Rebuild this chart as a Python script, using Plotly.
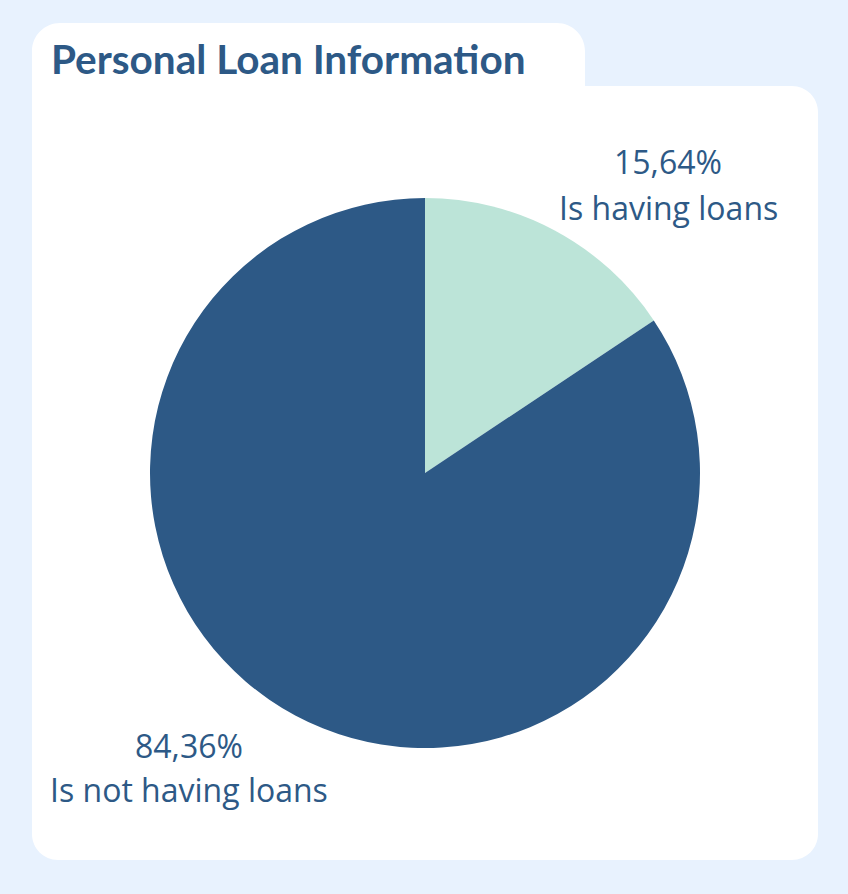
import plotly.graph_objects as go

# Data
categories = ["Is having loans", "Is not having loans"]
shares = [15.64, 84.36]
slice_colors = ["#bce4d8", "#2d5986"]
title_text = "Personal Loan Information"

W, H = 848, 894
TEXT = "#2d5986"
BG = "#e8f2fe"

fig = go.Figure()

# Pie: center (425,473), radius 275 px
cx, cy, r = 425, 473, 275
fig.add_trace(go.Pie(
    labels=categories, values=shares, sort=False, direction="clockwise",
    rotation=0, marker=dict(colors=slice_colors, line=dict(width=0)),
    textinfo="none", hoverinfo="label+percent", showlegend=False,
    domain=dict(x=[(cx - r) / W, (cx + r) / W], y=[1 - (cy + r) / H, 1 - (cy - r) / H]),
))

# hidden pixel axes
fig.update_xaxes(range=[0, W], visible=False, fixedrange=True)
fig.update_yaxes(range=[H, 0], visible=False, fixedrange=True)
fig.add_trace(go.Scatter(x=[0], y=[0], mode="markers", marker=dict(opacity=0), showlegend=False, hoverinfo="skip"))

# card path (tab + body) with rounded corners
k = 0.5523
def corner(x0, y0, x1, y1, cx_, cy_):
    c1 = (x0 + (cx_ - x0) * k, y0 + (cy_ - y0) * k)
    c2 = (x1 + (cx_ - x1) * k, y1 + (cy_ - y1) * k)
    return f"C {c1[0]},{c1[1]} {c2[0]},{c2[1]} {x1},{y1} "

L, T, TR, BT, R, B = 32, 23, 585, 86, 818, 860
rt, rb = 28, 26
path = f"M {L},{T+rt} " + corner(L, T + rt, L + rt, T, L, T)
path += f"L {TR-rt},{T} " + corner(TR - rt, T, TR, T + rt, TR, T)
path += f"L {TR},{BT} L {R-rb},{BT} " + corner(R - rb, BT, R, BT + rb, R, BT)
path += f"L {R},{B-rb} " + corner(R, B - rb, R - rb, B, R, B)
path += f"L {L+rb},{B} " + corner(L + rb, B, L, B - rb, L, B)
path += "Z"
fig.add_shape(type="path", path=path, xref="x", yref="y", fillcolor="white",
              line=dict(width=0), layer="below")

ann = []
ann.append(dict(text=f"<b>{title_text}</b>", x=49, y=58, xref="x", yref="y",
                xanchor="left", yanchor="middle", showarrow=False,
                font=dict(family="Lato", size=40.5, color=TEXT)))

label_pos = [(668, 161, 207), (189, 745, 789)]
for cat, v, (lx, ly1, ly2) in zip(categories, shares, label_pos):
    pct = f"{v / sum(shares) * 100:.2f}%".replace(".", ",")
    ann.append(dict(text=pct, x=lx, y=ly1, xref="x", yref="y", showarrow=False,
                    xanchor="center", yanchor="middle",
                    font=dict(family="Open Sans", size=32, color=TEXT)))
    ann.append(dict(text=cat, x=lx, y=ly2, xref="x", yref="y", showarrow=False,
                    xanchor="center", yanchor="middle",
                    font=dict(family="Open Sans", size=32, color=TEXT)))

fig.update_layout(width=W, height=H, margin=dict(l=0, r=0, t=0, b=0),
                  paper_bgcolor=BG, plot_bgcolor="rgba(0,0,0,0)",
                  annotations=ann)

fig.write_html("out.html", config={"displayModeBar": False})
